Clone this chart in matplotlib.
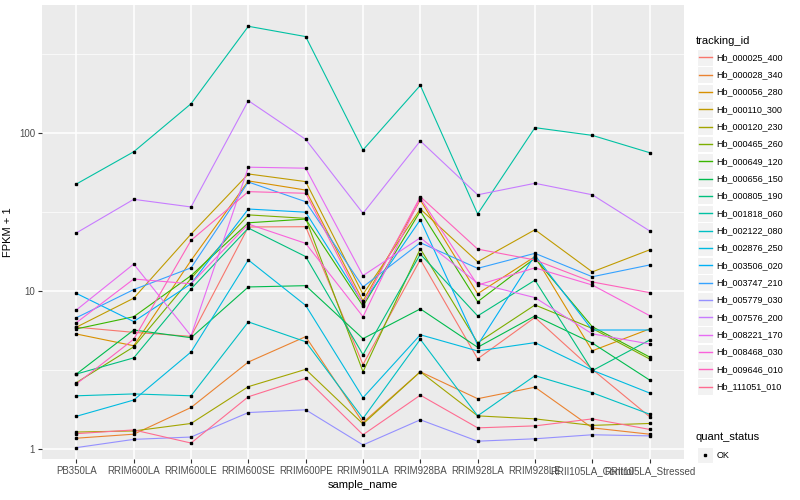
import matplotlib.pyplot as plt
from matplotlib.lines import Line2D
from matplotlib.patches import Rectangle

plt.rcParams['font.family'] = ['Liberation Sans', 'DejaVu Sans']

samples = ["PB350LA", "RRIM600LA", "RRIM600LE", "RRIM600SE", "RRIM600PE",
           "RRIM901LA", "RRIM928BA", "RRIM928LA", "RRIM928LE",
           "RRII105LA_Control", "RRII105LA_Stressed"]

tracking_ids = ["Hb_000025_400", "Hb_000028_340", "Hb_000056_280", "Hb_000110_300",
                "Hb_000120_230", "Hb_000465_260", "Hb_000649_120", "Hb_000656_150",
                "Hb_000805_190", "Hb_001818_060", "Hb_002122_080", "Hb_002876_250",
                "Hb_003506_020", "Hb_003747_210", "Hb_005779_030", "Hb_007576_200",
                "Hb_008221_170", "Hb_008468_030", "Hb_009646_010", "Hb_111051_010"]

# ggplot default hue palette for 20 levels
colors = ["#F8766D", "#EA8331", "#D89000", "#C09B00", "#A3A500", "#7CAE00",
          "#39B600", "#00BB4E", "#00BF7D", "#00C1A3", "#00BFC4", "#00BAE0",
          "#00B0F6", "#35A2FF", "#9590FF", "#C77CFF", "#E76BF3", "#FA62DB",
          "#FF62BC", "#FF6C91"]

# FPKM + 1 per sample, one list per tracking_id
hb_000025_400 = [5.9, 5.47, 5.16, 25.4, 25.5, 3.42, 15.8, 3.72, 6.8, 3.19, 1.60]
hb_000028_340 = [1.17, 1.24, 1.83, 3.55, 5.14, 1.47, 3.08, 2.08, 2.46, 1.36, 1.24]
hb_000056_280 = [5.34, 4.5, 15.6, 49.7, 43.5, 8.65, 37.6, 9.6, 16.5, 4.18, 5.75]
hb_000110_300 = [5.9, 9.0, 22.9, 55, 49.2, 9.52, 33, 15.3, 24.4, 13.2, 18.2]
hb_000120_230 = [1.28, 1.30, 1.45, 2.48, 3.19, 1.44, 3.08, 1.62, 1.55, 1.41, 1.45]
hb_000465_260 = [2.63, 4.43, 12.0, 30.3, 28.8, 3.08, 18.5, 4.7, 8.15, 5.79, 3.71]
hb_000649_120 = [5.75, 6.87, 12.5, 27, 28.5, 8.03, 32, 8.55, 16.1, 5.94, 3.82]
hb_000656_150 = [2.98, 5.66, 5.06, 10.6, 10.8, 4.99, 7.7, 4.4, 6.95, 4.68, 2.73]
hb_000805_190 = [2.98, 3.77, 10.3, 25, 16.5, 3.95, 17.1, 6.95, 11.7, 3.13, 4.89]
hb_001818_060 = [47.5, 76, 153, 473, 407, 78, 200, 30.7, 108, 96.5, 75]
hb_002122_080 = [2.17, 2.23, 2.17, 6.37, 4.77, 1.56, 4.94, 1.62, 2.91, 2.27, 1.66]
hb_002876_250 = [1.61, 2.04, 4.11, 15.7, 8.1, 2.11, 5.28, 4.17, 4.71, 3.15, 2.26]
hb_003506_020 = [9.65, 6.4, 11.1, 33, 31.5, 8.37, 28.2, 4.55, 16.8, 5.66, 5.66]
hb_003747_210 = [6.77, 10.2, 14.0, 48.9, 36.7, 10.6, 20.2, 13.9, 17.3, 12.3, 14.6]
hb_005779_030 = [1.02, 1.15, 1.19, 1.70, 1.77, 1.06, 1.53, 1.12, 1.16, 1.23, 1.21]
hb_007576_200 = [23.3, 38, 34, 160, 91, 31, 89, 40.6, 48, 40.6, 24]
hb_008221_170 = [7.58, 14.8, 5.2, 60.7, 59.8, 12.5, 21.7, 11.2, 9.07, 5.35, 4.62]
hb_008468_030 = [6.3, 11.9, 11.1, 26.5, 20, 6.87, 38.7, 10.9, 14.0, 10.9, 6.98]
hb_009646_010 = [2.58, 4.95, 20.9, 42.5, 41.5, 8.2, 39.5, 18.4, 15.7, 11.4, 9.76]
hb_111051_010 = [1.25, 1.32, 1.09, 2.14, 2.80, 1.23, 2.19, 1.36, 1.40, 1.55, 1.33]

series = [hb_000025_400, hb_000028_340, hb_000056_280, hb_000110_300, hb_000120_230,
          hb_000465_260, hb_000649_120, hb_000656_150, hb_000805_190, hb_001818_060,
          hb_002122_080, hb_002876_250, hb_003506_020, hb_003747_210, hb_005779_030,
          hb_007576_200, hb_008221_170, hb_008468_030, hb_009646_010, hb_111051_010]

W, H = 800, 500
fig = plt.figure(figsize=(8, 5), dpi=100)
# panel in pixel coords: x 42..684, y 5..459 (from top)
ax = fig.add_axes([42 / W, (H - 459) / H, (684 - 42) / W, (459 - 5) / H])
ax.set_facecolor("#EBEBEB")

x = list(range(len(samples)))
for vals, col in zip(series, colors):
    ax.plot(x, vals, color=col, lw=0.8, zorder=3)
for vals in series:
    ax.plot(x, vals, ls="none", marker="s", ms=2.1, color="black", zorder=4)

ax.set_yscale("log")
ax.set_ylim(0.864, 645)
ax.set_xlim(-0.6, 10.6)
ax.set_yticks([1, 10, 100])
ax.set_yticklabels(["1", "10", "100"])
ax.set_yticks([10 ** 0.5, 10 ** 1.5, 10 ** 2.5], minor=True)
ax.yaxis.set_minor_formatter(plt.NullFormatter())
ax.set_xticks(x)
ax.set_xticklabels(samples)

ax.grid(True, which="major", color="white", lw=1.1, zorder=0)
ax.grid(True, which="minor", axis="y", color="white", lw=0.5, zorder=0)
ax.set_axisbelow(True)
for s in ax.spines.values():
    s.set_visible(False)
ax.tick_params(which="major", length=3, width=0.8, color="#333333",
               labelsize=7, labelcolor="#4D4D4D", pad=2)
ax.tick_params(which="minor", length=0)

ax.set_xlabel("sample_name", fontsize=8, labelpad=3)
ax.set_ylabel("FPKM + 1", fontsize=8, labelpad=4)

# legend drawn by hand in pixel coords
def fy(py):
    return (H - py) / H

fig.text(696 / W, fy(40.5), "tracking_id", fontsize=8, va="center", ha="left")
for i, (tid, col) in enumerate(zip(tracking_ids, colors)):
    cy = 57.3 + i * 17.33
    fig.add_artist(Rectangle((697 / W, fy(cy + 8.3)), 16 / W, 16.6 / H,
                             transform=fig.transFigure, facecolor="#F2F2F2",
                             edgecolor="white", lw=0.8))
    fig.add_artist(Line2D([698.5 / W, 711.5 / W], [fy(cy), fy(cy)],
                          transform=fig.transFigure, color=col, lw=1.0))
    fig.text(716.5 / W, fy(cy), tid, fontsize=6.5, va="center", ha="left")

fig.text(696 / W, fy(437), "quant_status", fontsize=8, va="center", ha="left")
fig.add_artist(Rectangle((697 / W, fy(455 + 8.3)), 16 / W, 16.6 / H,
                         transform=fig.transFigure, facecolor="#F2F2F2",
                         edgecolor="white", lw=0.8))
fig.add_artist(Line2D([705 / W], [fy(455)], transform=fig.transFigure,
                      marker="s", ms=2.1, color="black", ls="none"))
fig.text(716.5 / W, fy(455), "OK", fontsize=6.5, va="center", ha="left")

fig.savefig("out.png", dpi=100)
